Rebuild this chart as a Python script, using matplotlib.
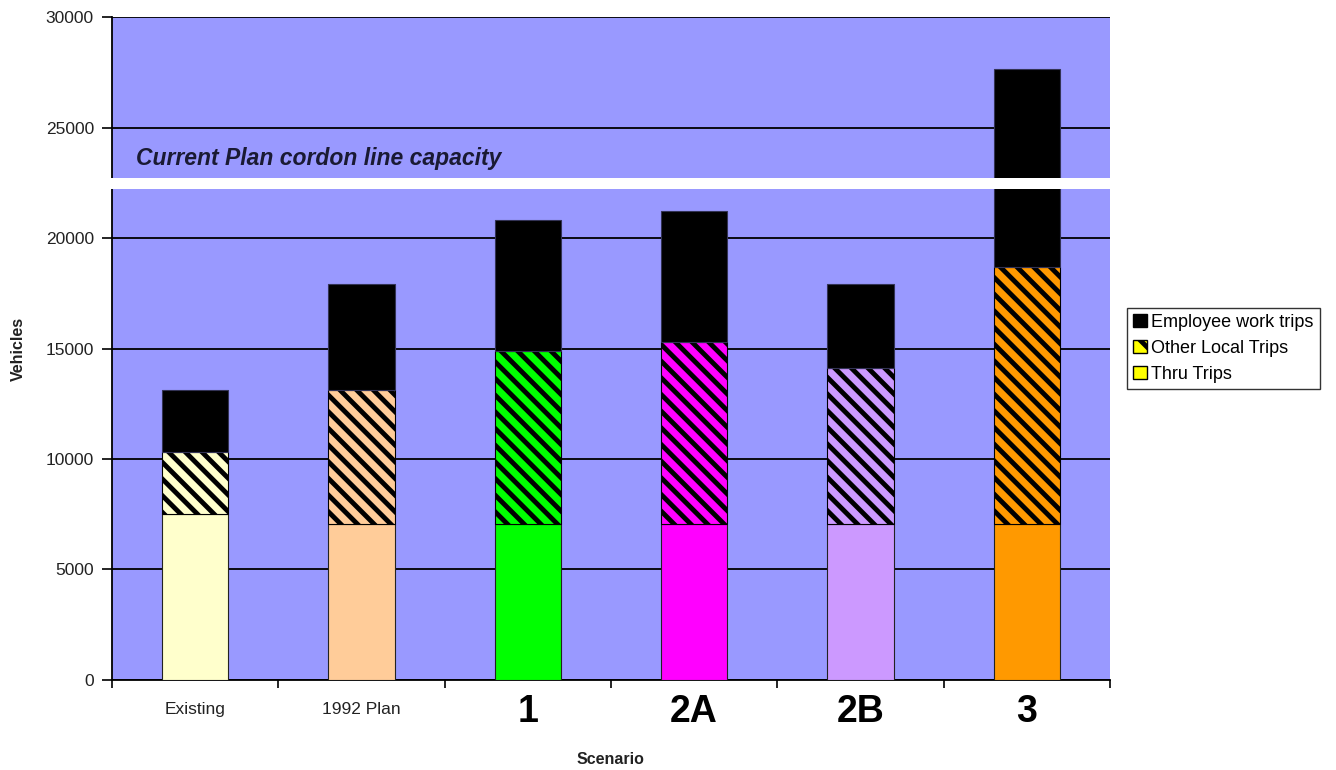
"""Cordon line traffic by scenario, stacked by trip type."""

from __future__ import annotations

import matplotlib

matplotlib.use("Agg")
import matplotlib.pyplot as plt
from matplotlib.patches import Patch, Rectangle
from matplotlib.transforms import blended_transform_factory


OUTPUT_PATH = "out.png"

SCENARIOS = ["Existing", "1992 Plan", "1", "2A", "2B", "3"]
BIG_LABELS = [False, False, True, True, True, True]
THRU_TRIPS = [7500, 7050, 7050, 7050, 7050, 7050]
OTHER_LOCAL_TRIPS = [2800, 6050, 7850, 8250, 7050, 11650]
EMPLOYEE_WORK_TRIPS = [2800, 4800, 5900, 5900, 3800, 8950]
BAR_COLORS = ["#FFFFCC", "#FFCC99", "#00FF00", "#FF00FF", "#CC99FF", "#FF9900"]

CAPACITY_LABEL = "Current Plan cordon line capacity"
BREAK_LOW = 22200
BREAK_HIGH = 22700

PLOT_BG = "#9999FF"


def draw_bars(axes) -> None:
    """3段積み上げ棒を描く。"""
    x_positions = list(range(len(SCENARIOS)))
    bottoms = [0.0 for _ in SCENARIOS]
    axes.bar(x_positions, THRU_TRIPS, width=0.4, color=BAR_COLORS,
             edgecolor="#222222", linewidth=0.8, zorder=3)
    bottoms = [b + v for b, v in zip(bottoms, THRU_TRIPS, strict=True)]
    axes.bar(x_positions, OTHER_LOCAL_TRIPS, width=0.4, bottom=bottoms,
             color=BAR_COLORS, edgecolor="black", linewidth=0.8,
             hatch="\\\\", zorder=3)
    bottoms = [b + v for b, v in zip(bottoms, OTHER_LOCAL_TRIPS, strict=True)]
    axes.bar(x_positions, EMPLOYEE_WORK_TRIPS, width=0.4, bottom=bottoms,
             color="black", edgecolor="#333355", linewidth=0.8, zorder=3)


def configure_axes(axes) -> None:
    """目盛・枠線・ラベルを設定する。"""
    axes.set_facecolor(PLOT_BG)
    axes.set_xlim(-0.5, len(SCENARIOS) - 0.5)
    axes.set_ylim(0, 30000)
    axes.set_yticks(range(0, 30001, 5000))
    axes.yaxis.grid(True, color="black", linewidth=1.3, zorder=1)
    axes.set_axisbelow(True)
    for side in ("top", "right"):
        axes.spines[side].set_visible(False)
    for side in ("left", "bottom"):
        axes.spines[side].set_linewidth(1.3)
    axes.tick_params(axis="y", direction="out", length=7, width=1.2,
                     labelsize=12.5, labelcolor="#222222", pad=6)

    axes.set_xticks(range(len(SCENARIOS)))
    axes.set_xticklabels(SCENARIOS)
    axes.tick_params(axis="x", which="major", length=0, pad=10)
    for label, big in zip(axes.get_xticklabels(), BIG_LABELS, strict=True):
        if big:
            label.set_fontsize(27)
            label.set_fontweight("bold")
        else:
            label.set_fontsize(12.5)
            label.set_color("#222222")
            label.set_y(-0.012)
    axes.set_xticks([i - 0.5 for i in range(len(SCENARIOS) + 1)], minor=True)
    axes.tick_params(axis="x", which="minor", direction="out", length=6, width=1.2)

    axes.set_xlabel("Scenario", fontsize=11.5, fontweight="bold", labelpad=16,
                    color="#222222")
    axes.set_ylabel("Vehicles", fontsize=11.5, fontweight="bold", labelpad=14,
                    color="#222222")


def draw_capacity_break(axes) -> None:
    """容量ラインを示す白帯と注記を描く。"""
    trans = blended_transform_factory(axes.transAxes, axes.transData)
    axes.add_patch(Rectangle((-0.01, BREAK_LOW), 1.01, BREAK_HIGH - BREAK_LOW,
                             transform=trans, facecolor="white",
                             edgecolor="none", zorder=6, clip_on=False))
    axes.text(0.024, 23600, CAPACITY_LABEL, transform=trans, fontsize=16.5,
              fontweight="bold", fontstyle="italic", color="#1a1a33",
              va="center", ha="left", zorder=7)


def draw_legend(axes) -> None:
    """凡例を右側に置く。"""
    handles = [
        Patch(facecolor="black", edgecolor="black", label="Employee work trips"),
        Patch(facecolor="#FFFF00", edgecolor="black", hatch="\\",
              label="Other Local Trips"),
        Patch(facecolor="#FFFF00", edgecolor="black", label="Thru Trips"),
    ]
    legend = axes.legend(handles=handles, loc="center left",
                         bbox_to_anchor=(1.017, 0.50), fontsize=13,
                         frameon=True, fancybox=False, handlelength=0.75,
                         handleheight=0.75, handletextpad=0.25,
                         borderpad=0.35, labelspacing=0.5, borderaxespad=0)
    legend.get_frame().set_edgecolor("black")
    legend.get_frame().set_linewidth(1.0)


def main() -> None:
    """図を作成して保存する。"""
    plt.rcParams["font.family"] = ["Liberation Sans", "DejaVu Sans"]
    plt.rcParams["hatch.linewidth"] = 3.5
    fig = plt.figure(figsize=(13.36, 7.7), dpi=100)
    axes = fig.add_axes([0.0838, 0.1169, 0.747, 0.861])
    draw_bars(axes)
    configure_axes(axes)
    draw_capacity_break(axes)
    draw_legend(axes)
    fig.savefig(OUTPUT_PATH, dpi=100, facecolor="white")
    plt.close(fig)


if __name__ == "__main__":
    main()
